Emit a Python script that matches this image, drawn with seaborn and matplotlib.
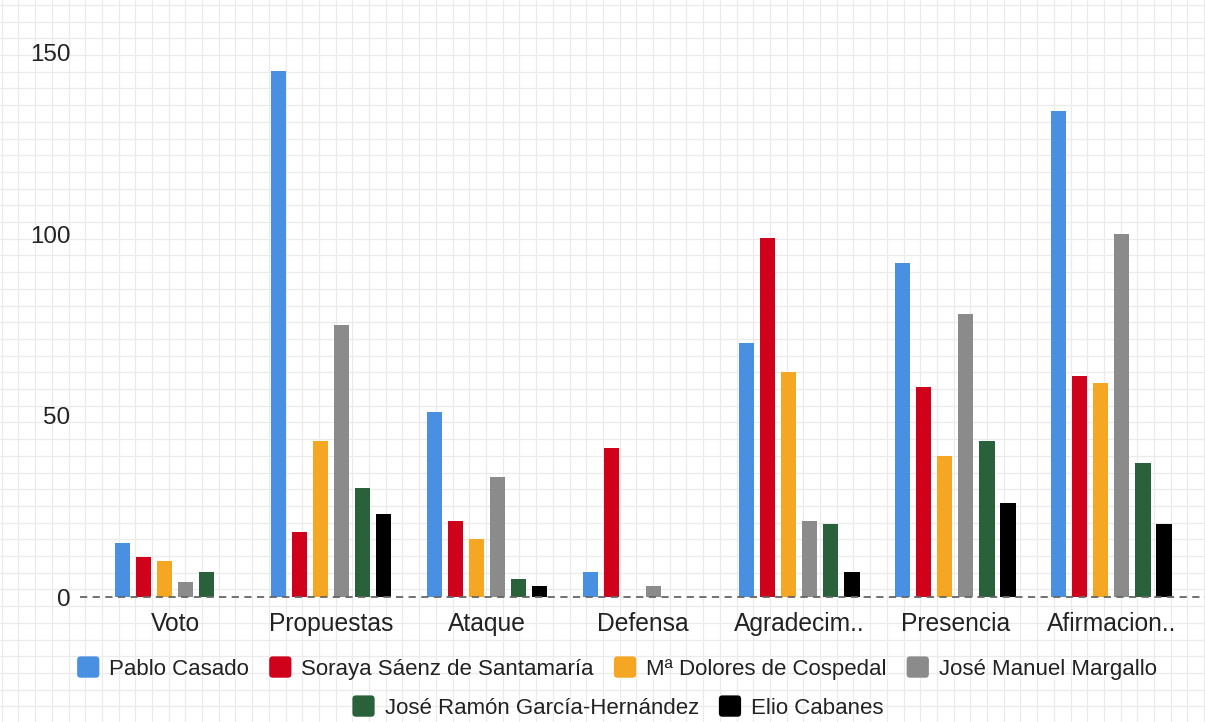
import numpy as np
import pandas as pd
import matplotlib
matplotlib.use("Agg")
import matplotlib.pyplot as plt
import seaborn as sns
from matplotlib.patches import FancyBboxPatch
from matplotlib.legend_handler import HandlerPatch

categories = ["Voto", "Propuestas", "Ataque", "Defensa", "Agradecim..", "Presencia", "Afirmacion.."]
speakers = ["Pablo Casado", "Soraya Sáenz de Santamaría", "Mª Dolores de Cospedal",
            "José Manuel Margallo", "José Ramón García-Hernández", "Elio Cabanes"]
pablo = [15, 145, 51, 7, 70, 92, 134]
soraya = [11, 18, 21, 41, 99, 58, 61]
cospedal = [10, 43, 16, 0, 62, 39, 59]
margallo = [4, 75, 33, 3, 21, 78, 100]
garcia = [7, 30, 5, 0, 20, 43, 37]
cabanes = [0, 23, 3, 0, 7, 26, 20]
colors = ["#4A90E2", "#D0021B", "#F5A623", "#8B8B8B", "#28613A", "#000000"]
yticks = [0, 50, 100, 150]

series = [pablo, soraya, cospedal, margallo, garcia, cabanes]
rows = []
for name, vals in zip(speakers, series):
    for c, v in zip(categories, vals):
        rows.append({"cat": c, "val": v, "speaker": name})
df = pd.DataFrame(rows)

sns.set_theme(style="white")
plt.rcParams["font.family"] = ["Liberation Sans", "DejaVu Sans"]

W, H = 1205, 722
fig = plt.figure(figsize=(W / 100, H / 100), dpi=100)
fig.patch.set_facecolor("white")

# graph-paper background
bg = fig.add_axes([0, 0, 1, 1], zorder=-5)
bg.set_xlim(0, W)
bg.set_ylim(H, 0)
bg.axis("off")
step = 16.7
for x in np.arange(1.7, W, step):
    bg.axvline(x, color="#ebebeb", lw=0.9, zorder=0)
for y in np.arange(4.9, H, step):
    bg.axhline(y, color="#ebebeb", lw=0.9, zorder=0)

ax = fig.add_axes([80 / W, (H - 597) / H, 1125 / W, (597 - 16.7) / H])
ax.set_facecolor("none")
sns.barplot(data=df, x="cat", y="val", hue="speaker", hue_order=speakers,
            order=categories, palette=colors, saturation=1, width=0.81, gap=0.28,
            linewidth=0, ax=ax, errorbar=None)
handles, labels = ax.get_legend_handles_labels()
if ax.get_legend() is not None:
    ax.get_legend().remove()

ax.set_xlim(-0.61, 6.6)
ax.set_ylim(0, 160)
ax.set_yticks(yticks)
ax.set_yticklabels([str(t) for t in yticks])
for s in ax.spines.values():
    s.set_visible(False)
ax.tick_params(axis="both", length=0, colors="#222222")
ax.tick_params(axis="x", pad=11, labelsize=17.7)
ax.tick_params(axis="y", pad=7, labelsize=17.4)
ax.set_xlabel("")
ax.set_ylabel("")
ax.axhline(0, color="#666666", lw=1.3, ls=(0, (4, 3)), zorder=5, clip_on=False)


class RoundHandler(HandlerPatch):
    def create_artists(self, legend, orig_handle, xdescent, ydescent, width, height, fontsize, trans):
        p = FancyBboxPatch((-xdescent, -ydescent), width, height,
                           boxstyle="round,pad=0,rounding_size=2.5",
                           facecolor=orig_handle.get_facecolor(), edgecolor="none",
                           transform=trans)
        return [p]


hm = {h: RoundHandler() for h in handles}
kw = dict(frameon=False, fontsize=16, handlelength=1.0, handleheight=1.1,
          handletextpad=0.45, columnspacing=0.9, handler_map=hm, borderaxespad=0,
          labelcolor="#222222", borderpad=0)
leg1 = fig.legend(handles[:4], labels[:4], ncol=4, loc="center",
                  bbox_to_anchor=(617 / W, (H - 668) / H), **kw)
leg2 = fig.legend(handles[4:], labels[4:], ncol=2, loc="center",
                  bbox_to_anchor=(618 / W, (H - 707) / H), **kw)

fig.savefig("out.png", dpi=100, facecolor="white")
